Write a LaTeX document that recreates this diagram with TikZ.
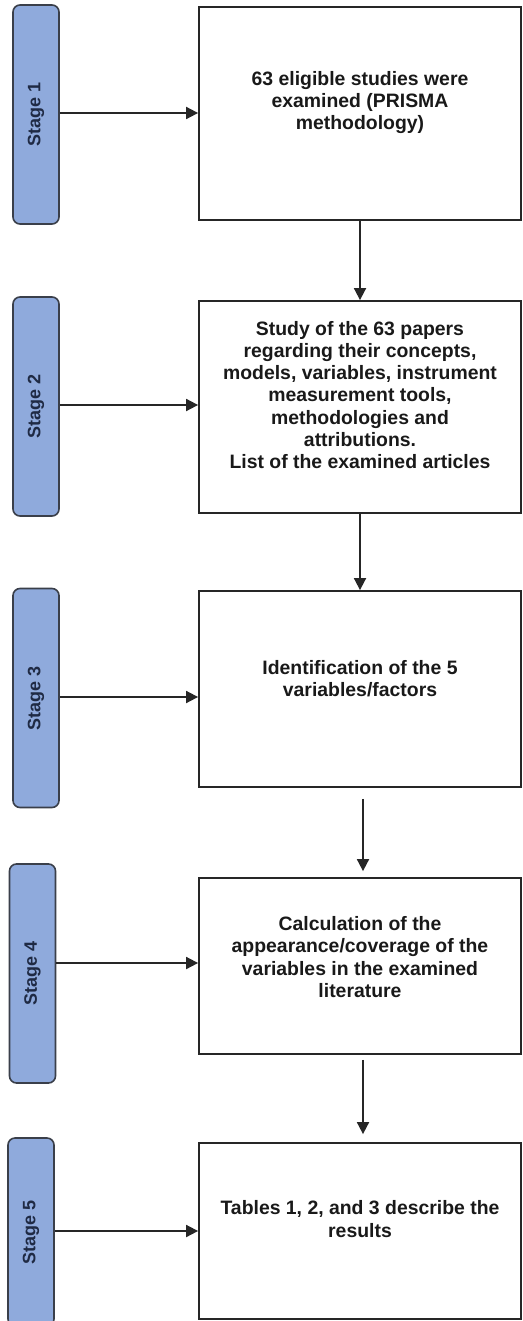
\documentclass[tikz,border=0pt]{standalone}
\usepackage{fontspec}
\setmainfont{Liberation Sans}
\usetikzlibrary{arrows.meta}
\definecolor{stagefill}{HTML}{8FAADC}
\definecolor{stageedge}{HTML}{3A3F4A}
\definecolor{stagetext}{HTML}{1F2A44}
\begin{document}
\begin{tikzpicture}[x=1pt,y=-1pt,
  stagebox/.style={draw=stageedge, fill=stagefill, line width=1.6pt, rounded corners=7pt,
    minimum width=46pt, minimum height=219pt, inner sep=0pt},
  stagelabel/.style={rotate=90, text=stagetext, font=\fontsize{18}{20}\selectfont\bfseries},
  stepbox/.style={draw=black!85, line width=1.8pt, minimum width=322pt, inner sep=0pt},
  steptext/.style={align=center, font=\fontsize{19.4}{22.3}\selectfont\bfseries, text=black!90},
  link/.style={draw=black!85, line width=1.8pt, -{Triangle[length=12pt,width=12pt]}}
]
\clip (0,0) rectangle (522,1321);
\fill[white] (0,0) rectangle (522,1321);

% stage tabs on the left
\node[stagebox, label={[stagelabel]center:Stage 1}] (s1) at (36,114.5) {};
\node[stagebox, label={[stagelabel]center:Stage 2}] (s2) at (36,406.5) {};
\node[stagebox, label={[stagelabel]center:Stage 3}] (s3) at (36,698) {};
\node[stagebox, label={[stagelabel]center:Stage 4}] (s4) at (32.5,973.5) {};
\node[stagebox, minimum height=188pt, label={[stagelabel]center:Stage 5}] (s5) at (31,1232) {};

% process boxes
\node[stepbox, minimum height=213pt] (b1) at (360,113.5) {};
\node[stepbox, minimum height=212pt] (b2) at (360,407) {};
\node[stepbox, minimum height=196pt] (b3) at (360,689) {};
\node[stepbox, minimum height=176pt] (b4) at (360,966) {};
\node[stepbox, minimum height=176pt] (b5) at (360,1231) {};

\node[steptext] (t1) at ([yshift=11pt]b1.center) {63 eligible studies were\\examined (PRISMA\\methodology)};
\node[steptext] (t2) at ([yshift=12pt]b2.center) {Study of the 63 papers\\regarding their concepts,\\models, variables, instrument\\measurement tools,\\methodologies and\\attributions.\\List of the examined articles};
\node[steptext] (t3) at ([yshift=10pt]b3.center) {Identification of the 5\\variables/factors};
\node[steptext] (t4) at ([yshift=9pt]b4.center) {Calculation of the\\appearance/coverage of the\\variables in the examined\\literature};
\node[steptext] (t5) at ([yshift=12pt]b5.center) {Tables 1, 2, and 3 describe the\\results};

% stage tab to box
\draw[link] (s1.east |- 0,113) -- (b1.west |- 0,113);
\draw[link] (s2.east |- 0,405) -- (b2.west |- 0,405);
\draw[link] (s3.east |- 0,697) -- (b3.west |- 0,697);
\draw[link] (s4.east |- 0,963) -- (b4.west |- 0,963);
\draw[link] (s5.east |- 0,1231) -- (b5.west |- 0,1231);

% box to box
\draw[link] (b1.south) -- (b2.north);
\draw[link] (b2.south) -- (b3.north);
\draw[link, shorten <=11pt, shorten >=6pt] ([xshift=3pt]b3.south) -- ([xshift=3pt]b4.north);
\draw[link, shorten <=5pt, shorten >=8pt] ([xshift=3pt]b4.south) -- ([xshift=3pt]b5.north);
\end{tikzpicture}
\end{document}
